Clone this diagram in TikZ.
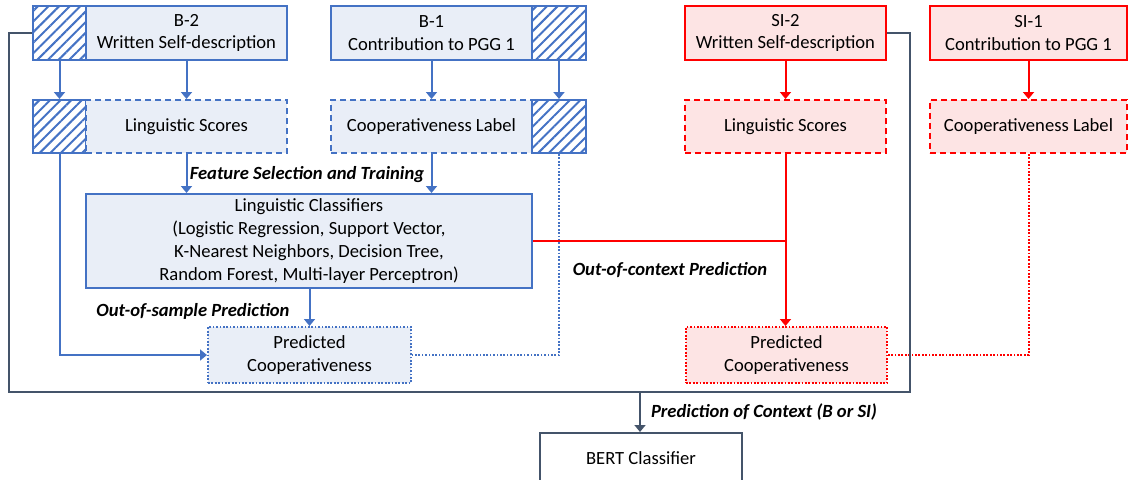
\documentclass[tikz,border=0pt]{standalone}
\usepackage{fontspec}
\setmainfont{Carlito}
\usetikzlibrary{arrows.meta,patterns.meta}
\definecolor{bl}{HTML}{4472C4}
\definecolor{blfill}{HTML}{E9EEF7}
\definecolor{rd}{HTML}{FF0000}
\definecolor{rdfill}{HTML}{FDE4E4}
\definecolor{gr}{HTML}{44546A}
\tikzset{
  base/.style={draw, line width=2pt, inner sep=0pt, align=center, font=\fontsize{18.6}{22.7}\selectfont},
  bbox/.style={base, draw=bl, fill=blfill},
  rbox/.style={base, draw=rd, fill=rdfill},
  hatch/.style={base, draw=bl, fill=white, pattern={Lines[angle=45,distance=7.5pt,line width=2pt]}, pattern color=bl},
  dsh/.style={dash pattern=on 6pt off 4pt},
  dtt/.style={dash pattern=on 1.7pt off 1.7pt},
  blink/.style={draw=bl, line width=2pt},
  rlink/.style={draw=rd, line width=2pt},
  glink/.style={draw=gr, line width=2pt},
  tip/.style={-{Triangle[length=7pt,width=11pt]}},
  lab/.style={font=\fontsize{18.6}{20}\selectfont\bfseries\itshape, inner sep=0pt}
}
\begin{document}
\begin{tikzpicture}[x=1pt,y=-1pt]
\useasboundingbox (0,0) rectangle (1129,479);
% top row
\node[hatch, minimum width=53pt, minimum height=54pt] (b2h) at (59.5,33) {};
\node[bbox, minimum width=201pt, minimum height=54pt] (b2) at (186.5,33) {B-2\\Written Self-description};
\node[bbox, minimum width=201pt, minimum height=54pt] (b1) at (431.5,33) {B-1\\Contribution to PGG 1};
\node[hatch, minimum width=54pt, minimum height=54pt] (b1h) at (559,33) {};
\node[rbox, minimum width=201pt, minimum height=54pt] (si2) at (785.5,33) {SI-2\\Written Self-description};
\node[rbox, minimum width=197pt, minimum height=54pt] (si1) at (1028.5,33) {SI-1\\Contribution to PGG 1};
% second row
\node[hatch, minimum width=53pt, minimum height=53pt] (lsh) at (59.5,126.5) {};
\node[bbox, dsh, minimum width=201pt, minimum height=53pt] (ls) at (186.5,126.5) {Linguistic Scores};
\node[bbox, dsh, minimum width=201pt, minimum height=53pt] (cl) at (431.5,126.5) {Cooperativeness Label};
\node[hatch, minimum width=54pt, minimum height=53pt] (clh) at (559,126.5) {};
\node[rbox, dsh, minimum width=201pt, minimum height=53pt] (sils) at (785.5,126.5) {Linguistic Scores};
\node[rbox, dsh, minimum width=197pt, minimum height=53pt] (sicl) at (1028.5,126.5) {Cooperativeness Label};
% classifiers and predictions
\node[bbox, minimum width=446pt, minimum height=94pt] (clf) at (309,241) {Linguistic Classifiers\\(Logistic Regression, Support Vector,\\K-Nearest Neighbors, Decision Tree,\\Random Forest, Multi-layer Perceptron)};
\node[bbox, dtt, minimum width=203pt, minimum height=56pt] (pred) at (309.5,355) {Predicted\\Cooperativeness};
\node[rbox, dtt, minimum width=201pt, minimum height=56pt] (sipred) at (786.5,355) {Predicted\\Cooperativeness};
\node[base, draw=gr, fill=white, minimum width=202pt, minimum height=50pt] (bert) at (641,458) {BERT Classifier};
% labels
\node[lab] (l1) at (307,175) {Feature Selection and Training};
\node[lab] (l2) at (193,311) {Out-of-sample Prediction};
\node[lab] (l3) at (670,270) {Out-of-context Prediction};
\node[lab] (l4) at (764,412) {Prediction of Context (B or SI)};
% blue arrows
\draw[blink, tip] (b2h.south) -- (lsh.north);
\draw[blink, tip] (b2.south) -- (ls.north);
\draw[blink, tip] (b1.south) -- (cl.north);
\draw[blink, tip] (b1h.south) -- (clh.north);
\draw[blink, tip] (ls.south) -- (ls.south |- clf.north);
\draw[blink, tip] (cl.south) -- (cl.south |- clf.north);
\draw[blink, tip] (clf.south -| pred.north) -- (pred.north);
\draw[blink, tip] (lsh.south) |- (pred.west);
\draw[blink, dtt] (clh.south) |- (pred.east);
% red arrows
\draw[rlink, tip] (si2.south) -- (sils.north);
\draw[rlink, tip] (si1.south) -- (sicl.north);
\draw[rlink, tip] (sils.south) -- (sils.south |- sipred.north);
\draw[rlink] (clf.east) -- (sils.south |- clf.east);
\draw[rlink, dtt] (sicl.south) |- (sipred.east);
% gray frame
\coordinate (fb) at (640,392);
\draw[glink] (b2h.west) -- (9,33) -- (9,392) -- (910,392) -- (910,33) -- (si2.east);
\draw[glink, tip] (fb) -- (fb |- bert.north);
\end{tikzpicture}
\end{document}
